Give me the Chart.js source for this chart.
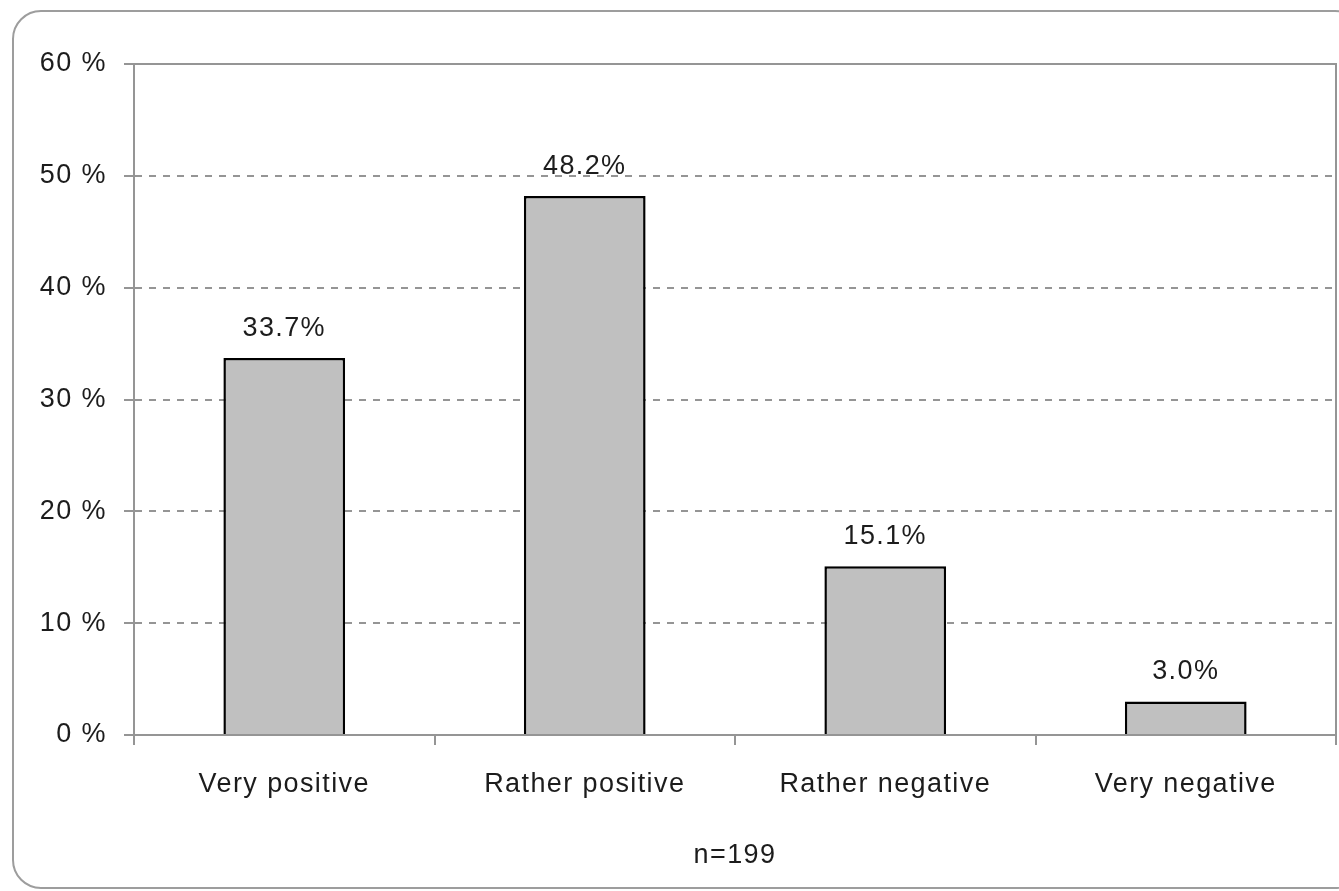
<!DOCTYPE html>
<html>
<head>
<meta charset="utf-8">
<style>
  html, body { margin: 0; padding: 0; background: #ffffff; overflow: hidden; }
  #wrap { position: relative; width: 1339px; height: 891px; }
</style>
<script src="https://cdn.jsdelivr.net/npm/chart.js@4/dist/chart.umd.min.js"></script>
</head>
<body>
<div id="wrap"><canvas id="chart" width="1339" height="891"></canvas></div>
<script>
// Survey answers and their shares (percent of respondents)
const categories = ['Very positive', 'Rather positive', 'Rather negative', 'Very negative'];
const shares = [33.7, 48.2, 15.1, 3.0];
const yTickValues = [0, 10, 20, 30, 40, 50, 60];
const sampleNote = 'n=199';

const FONT = { family: '"Liberation Sans", Arial, sans-serif', size: 27 };
const TEXT = '#1c1c1c';
const LINE = '#959595';

// Canvas state is reset whenever Chart.js resizes the canvas, so re-apply spacing
function applySpacing(ctx) { if ('letterSpacing' in ctx) ctx.letterSpacing = '1.4px'; }

const decorations = {
  id: 'decorations',
  beforeUpdate(chart) { applySpacing(chart.ctx); },
  beforeLayout(chart) { applySpacing(chart.ctx); },
  beforeDraw(chart) {
    const ctx = chart.ctx;
    applySpacing(ctx);
    // rounded outer frame, running off the right edge
    ctx.save();
    ctx.strokeStyle = '#9d9d9d';
    ctx.lineWidth = 2;
    ctx.beginPath();
    ctx.roundRect(13, 11, 1350, 877, 28);
    ctx.stroke();
    ctx.restore();
  },
  beforeDatasetsDraw(chart) {
    // solid top and right edges of the plot area
    const { ctx, chartArea: a } = chart;
    ctx.save();
    ctx.strokeStyle = LINE;
    ctx.lineWidth = 2;
    ctx.beginPath();
    ctx.moveTo(a.left, a.top);
    ctx.lineTo(a.right, a.top);
    ctx.lineTo(a.right, a.bottom);
    ctx.stroke();
    ctx.restore();
  },
  afterDatasetsDraw(chart) {
    // value labels above each bar
    const ctx = chart.ctx;
    const meta = chart.getDatasetMeta(0);
    ctx.save();
    applySpacing(ctx);
    ctx.font = `${FONT.size}px ${FONT.family}`;
    ctx.fillStyle = TEXT;
    ctx.textAlign = 'center';
    ctx.textBaseline = 'alphabetic';
    meta.data.forEach((bar, i) => {
      ctx.fillText(shares[i].toFixed(1) + '%', bar.x, bar.y - 22);
    });
    ctx.restore();
  }
};

new Chart(document.getElementById('chart'), {
  type: 'bar',
  data: {
    labels: categories,
    datasets: [{
      data: shares,
      backgroundColor: '#c0c0c0',
      borderColor: '#000000',
      borderWidth: 2.5,
      categoryPercentage: 0.405,
      barPercentage: 1.0
    }]
  },
  options: {
    responsive: false,
    animation: false,
    devicePixelRatio: 1,
    layout: { padding: { top: 64, right: 3, bottom: 0, left: 0 } },
    plugins: {
      legend: { display: false },
      tooltip: { enabled: false }
    },
    scales: {
      x: {
        grid: {
          offset: true,
          drawOnChartArea: false,
          drawTicks: true,
          tickLength: 10,
          color: LINE,
          lineWidth: 2
        },
        border: { display: true, color: LINE, width: 2 },
        ticks: { color: TEXT, font: FONT, padding: 23, maxRotation: 0 },
        title: {
          display: true,
          text: sampleNote,
          color: TEXT,
          font: FONT,
          padding: { top: 0, bottom: 19 }
        },
        afterFit(scale) { scale.height = 156; }
      },
      y: {
        min: yTickValues[0],
        max: yTickValues[yTickValues.length - 1],
        afterBuildTicks(scale) { scale.ticks = yTickValues.map(v => ({ value: v })); },
        grid: {
          color: LINE,
          lineWidth: 2,
          drawTicks: true,
          tickLength: 10,
          tickColor: LINE
        },
        border: { display: true, color: LINE, width: 2, dash: [7, 7] },
        ticks: {
          color: TEXT,
          font: FONT,
          padding: 17,
          callback: v => v + ' %'
        },
        afterFit(scale) { scale.width = 134; }
      }
    }
  },
  plugins: [decorations]
});
</script>
</body>
</html>
